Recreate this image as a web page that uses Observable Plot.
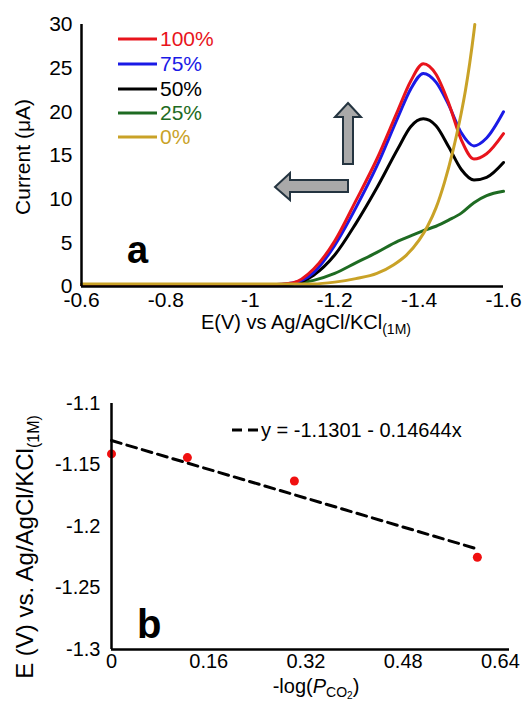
<!DOCTYPE html>
<html><head><meta charset="utf-8">
<script src="https://cdn.jsdelivr.net/npm/d3@7"></script>
<script src="https://cdn.jsdelivr.net/npm/@observablehq/plot@0.6"></script>
<style>body{margin:0;background:#fff;} svg{display:block;}</style>
</head><body><div id="chart"></div>
<script>
// ---------- Panel a data ----------
const potentials = [-0.6, -0.9, -1.05, -1.1, -1.15, -1.2, -1.25, -1.3, -1.35, -1.38, -1.41, -1.44, -1.47, -1.5, -1.53, -1.56, -1.6];
const current100 = [0.2, 0.2, 0.2, 0.4, 2.0, 5.2, 9.8, 14.6, 20.2, 23.5, 25.5, 24.3, 21.0, 16.8, 14.6, 15.2, 17.5];
const current75  = [0.2, 0.2, 0.2, 0.4, 1.6, 4.7, 9.0, 13.8, 19.4, 22.6, 24.4, 23.4, 20.8, 17.6, 16.1, 17.0, 20.0];
const current50  = [0.2, 0.2, 0.2, 0.3, 1.3, 3.6, 7.2, 11.3, 15.8, 18.3, 19.2, 18.4, 16.0, 13.4, 12.2, 12.5, 14.2];
const current25  = [0.2, 0.2, 0.2, 0.3, 0.7, 1.5, 2.7, 3.9, 5.2, 5.8, 6.4, 6.9, 7.6, 8.4, 9.6, 10.4, 10.9];
const potentials0 = [-0.6, -0.9, -1.1, -1.15, -1.2, -1.25, -1.3, -1.34, -1.37, -1.4, -1.42, -1.44, -1.46, -1.48, -1.49, -1.5, -1.51, -1.52, -1.53, -1.532];
const current0    = [0.3, 0.3, 0.3, 0.3, 0.5, 0.9, 1.5, 2.5, 3.6, 5.3, 6.9, 9.0, 11.9, 15.5, 17.6, 19.9, 22.5, 25.6, 29.2, 30.0];
const seriesNames  = ["100%", "75%", "50%", "25%", "0%"];
const seriesColors = ["#e8141c", "#1a1ae6", "#000000", "#1e6b22", "#c9a227"];
const xTicksA = [-0.6, -0.8, -1, -1.2, -1.4, -1.6];
const yTicksA = [0, 5, 10, 15, 20, 25, 30];

// ---------- Panel b data ----------
const negLogP = [0, 0.1249, 0.3010, 0.6021];
const peakE   = [-1.141, -1.144, -1.163, -1.225];
const fitX = [0, 0.6021];
const fitY = [-1.1301, -1.2183];
const fitLabel = "y = -1.1301 - 0.14644x";
const xTicksB = [0, 0.16, 0.32, 0.48, 0.64];
const yTicksB = [-1.1, -1.15, -1.2, -1.25, -1.3];

const font = "'Liberation Sans', Arial, sans-serif";
const curvesBySeries = [current100, current75, current50, current25];
const rows = [];
curvesBySeries.forEach((arr, k) => arr.forEach((v, i) => rows.push({E: potentials[i], I: v, s: seriesNames[k]})));
current0.forEach((v, i) => rows.push({E: potentials0[i], I: v, s: "0%"}));
const drawOrder = ["25%", "50%", "75%", "100%", "0%"];

const chartA = Plot.plot({
  width: 525, height: 350,
  marginLeft: 81, marginRight: 22, marginTop: 24, marginBottom: 64,
  style: {fontFamily: font, fontSize: "21px", color: "#000", background: "#fff"},
  x: {domain: [-0.6, -1.6], ticks: xTicksA, tickFormat: d => String(d), tickSize: 0, tickPadding: 6, label: null},
  y: {domain: [0, 30], ticks: yTicksA, tickFormat: d => String(d), tickSize: 0, tickPadding: 9, label: null},
  color: {domain: seriesNames, range: seriesColors},
  marks: [
    ...drawOrder.map(name => Plot.line(rows.filter(r => r.s === name), {x: "E", y: "I", stroke: "s", strokeWidth: 3, curve: "monotone-x"})),
    Plot.ruleX([-0.6], {stroke: "#000", strokeWidth: 2.5}),
    Plot.ruleY([0], {stroke: "#000", strokeWidth: 2.5})
  ]
});

const chartB = Plot.plot({
  width: 525, height: 352,
  marginLeft: 111, marginRight: 16, marginTop: 53, marginBottom: 53,
  style: {fontFamily: font, fontSize: "20px", color: "#000", background: "#fff"},
  x: {domain: [0, 0.655], ticks: xTicksB, tickFormat: d => String(d), tickSize: 0, tickPadding: 4, label: null},
  y: {domain: [-1.3, -1.1], ticks: yTicksB, tickFormat: d => String(d), tickSize: 0, tickPadding: 11, label: null},
  marks: [
    Plot.line(fitX.map((x, i) => ({x, y: fitY[i]})), {x: "x", y: "y", stroke: "#000", strokeWidth: 3, strokeDasharray: "10,6"}),
    Plot.dot(negLogP.map((x, i) => ({x, y: peakE[i]})), {x: "x", y: "y", r: 4.5, fill: "#f01010", stroke: "none"}),
    Plot.ruleX([0], {stroke: "#000", strokeWidth: 2.5}),
    Plot.ruleY([-1.3], {stroke: "#000", strokeWidth: 2.5})
  ]
});

const root = document.getElementById("chart");
root.append(chartA, chartB);

// ---------- annotations panel a ----------
const sa = d3.select(chartA);
const legRowsY = [39, 64, 89, 113, 137];
seriesNames.forEach((name, i) => {
  sa.append("line").attr("x1", 118).attr("x2", 157).attr("y1", legRowsY[i]).attr("y2", legRowsY[i])
    .attr("stroke", seriesColors[i]).attr("stroke-width", 3);
  sa.append("text").attr("x", 160).attr("y", legRowsY[i]).attr("dy", "0.35em").attr("text-anchor", "start")
    .attr("fill", seriesColors[i]).attr("font-size", 21).attr("font-family", font).text(name);
});
sa.append("text").attr("x", 127).attr("y", 263).attr("text-anchor", "start").attr("font-size", 38).attr("font-weight", "bold")
  .attr("font-family", font).text("a");
// arrows
const arrowStyle = s => s.attr("fill", "#a9a9a9").attr("stroke", "#243440").attr("stroke-width", 2).attr("stroke-linejoin", "miter");
arrowStyle(sa.append("path").attr("d", "M348,103 L361,117 L353,117 L353,164 L343,164 L343,117 L335,117 Z"));
arrowStyle(sa.append("path").attr("d", "M275,187 L290,173 L290,180 L348,180 L348,192 L290,192 L290,200 Z"));
// axis titles
sa.append("text").attr("transform", "translate(23,157) rotate(-90)").attr("text-anchor", "middle")
  .attr("dy", "0.35em").attr("font-size", 21).attr("font-family", font).text("Current (\u03bcA)");
const xa = sa.append("text").attr("x", 306).attr("y", 329).attr("text-anchor", "middle")
  .attr("font-size", 20).attr("font-family", font);
xa.append("tspan").text("E(V) vs Ag/AgCl/KCl");
xa.append("tspan").attr("dy", 5).attr("font-size", 14).text("(1M)");

// ---------- annotations panel b ----------
const sb = d3.select(chartB);
sb.append("line").attr("x1", 232).attr("x2", 258).attr("y1", 80).attr("y2", 80)
  .attr("stroke", "#000").attr("stroke-width", 3).attr("stroke-dasharray", "10,6");
sb.append("text").attr("x", 261).attr("y", 80).attr("dy", "0.35em").attr("text-anchor", "start").attr("font-size", 20)
  .attr("font-family", font).text(fitLabel);
sb.append("text").attr("x", 137).attr("y", 288).attr("text-anchor", "start").attr("font-size", 40).attr("font-weight", "bold")
  .attr("font-family", font).text("b");
const yb = sb.append("text").attr("transform", "translate(33,197) rotate(-90)").attr("text-anchor", "middle")
  .attr("font-size", 24).attr("font-family", font);
yb.append("tspan").text("E (V) vs. Ag/AgCl/KCl");
yb.append("tspan").attr("dy", 6).attr("font-size", 16).text("(1M)");
const xb = sb.append("text").attr("x", 316).attr("y", 343).attr("text-anchor", "middle")
  .attr("font-size", 20).attr("font-family", font);
xb.append("tspan").text("-log(");
xb.append("tspan").attr("font-style", "italic").text("P");
xb.append("tspan").attr("dy", 4).attr("font-size", 14).text("CO");
xb.append("tspan").attr("dy", 2).attr("font-size", 10).text("2");
xb.append("tspan").attr("dy", -6).text(")");
</script>
</body></html>
